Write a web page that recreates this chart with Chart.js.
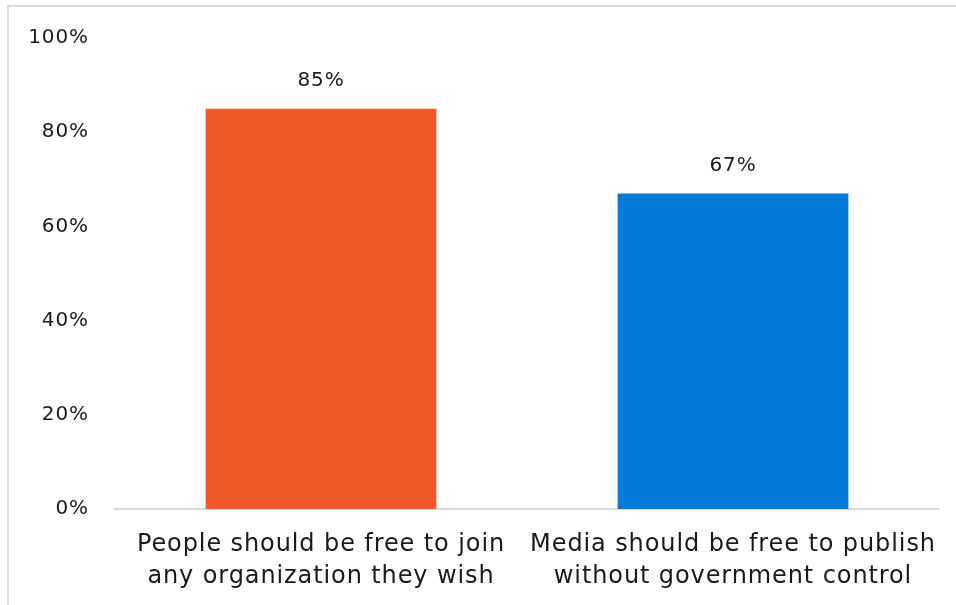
<!DOCTYPE html>
<html>
<head>
<meta charset="utf-8">
<script src="https://cdn.jsdelivr.net/npm/chart.js@4.4.1/dist/chart.umd.min.js"></script>
<style>
  html, body { margin: 0; padding: 0; background: #fff; overflow: hidden; }
  #frame {
    position: absolute; left: 7px; top: 5px;
    width: 1000px; height: 700px;
    border-left: 2px solid #d9d9d9; border-top: 2px solid #d9d9d9;
  }
  #wrap { position: absolute; left: 0; top: 0; width: 956px; height: 605px; }
</style>
</head>
<body>
<div id="frame"></div>
<div id="wrap"><canvas id="chart" width="956" height="605"></canvas></div>
<script>
const categories = [
  ["People should be free to join", "any organization they wish"],
  ["Media should be free to publish", "without government control"]
];
const values = [85, 67];
const barColors = ["#F1582A", "#0379D8"];
const yTicks = [0, 20, 40, 60, 80, 100];

const FONT = "'DejaVu Sans', sans-serif";
const TEXT = "#1a1a1a";

// A little extra tracking gives the wide, open look of the labels.
const tracking = {
  id: "tracking",
  beforeLayout(chart) { chart.ctx.letterSpacing = "0.9px"; },
  beforeDraw(chart) { chart.ctx.letterSpacing = "0.9px"; }
};

const valueLabels = {
  id: "valueLabels",
  afterDatasetsDraw(chart) {
    const ctx = chart.ctx;
    const meta = chart.getDatasetMeta(0);
    ctx.save();
    ctx.font = "20px " + FONT;
    ctx.fillStyle = TEXT;
    ctx.textAlign = "center";
    ctx.textBaseline = "middle";
    meta.data.forEach((bar, i) => {
      ctx.fillText(values[i] + "%", bar.x, bar.y - 28);
    });
    ctx.restore();
  }
};

new Chart(document.getElementById("chart"), {
  type: "bar",
  data: {
    labels: categories,
    datasets: [{
      data: values,
      backgroundColor: barColors,
      barPercentage: 0.56,
      categoryPercentage: 1
    }]
  },
  options: {
    responsive: false,
    animation: false,
    layout: { padding: { top: 37, right: 17, bottom: 0, left: 0 } },
    plugins: { legend: { display: false }, tooltip: { enabled: false } },
    scales: {
      x: {
        grid: { display: false, drawTicks: false },
        border: { display: true, color: "#d9d9d9", width: 2 },
        ticks: {
          color: TEXT,
          font: { family: FONT, size: 24, lineHeight: 1.33 },
          padding: 20,
          maxRotation: 0,
          autoSkip: false
        },
        afterFit(scale) {
          scale.height = 96;
          scale.paddingLeft = 0;
          scale.paddingRight = 0;
        }
      },
      y: {
        min: 0, max: 100,
        grid: { display: false, drawTicks: false },
        border: { display: false },
        afterBuildTicks(scale) { scale.ticks = yTicks.map(v => ({ value: v })); },
        ticks: {
          color: TEXT,
          font: { family: FONT, size: 20 },
          padding: 26,
          callback: v => v + "%"
        },
        afterFit(scale) { scale.width = 115; }
      }
    }
  },
  plugins: [tracking, valueLabels]
});
</script>
</body>
</html>
